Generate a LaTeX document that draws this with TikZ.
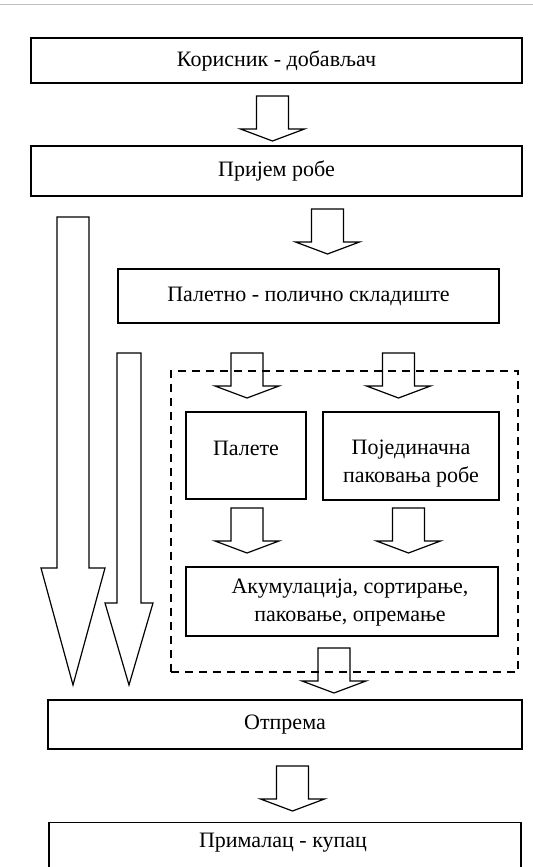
\documentclass[tikz,border=0pt]{standalone}
\usepackage{fontspec}
\setmainfont{Liberation Serif}
\tikzset{
  box/.style={draw, line width=0.6pt, inner sep=0pt, align=center},
  txt/.style={align=center, inner sep=0pt},
  frame/.style={draw, line width=0.6pt, dash pattern=on 4pt off 3pt},
  fatarrow/.style={draw, line width=0.6pt, line join=miter}
}
\begin{document}
\begin{tikzpicture}[x=0.5pt,y=-0.5pt,font=\fontsize{11}{14}\selectfont]
        \useasboundingbox (0,0) rectangle (533,867);
        \clip (0,0) rectangle (533,867);
        \draw[gray!50,line width=0.4pt] (0,4) -- (533,4);

        \node[box, minimum width=245.5pt, minimum height=22.5pt] (supplier) at (276.5,60.5) {Корисник - добављач};
        \node[box, minimum width=245.5pt, minimum height=25pt] (receipt) at (276.5,171) {Пријем робе};
        \node[box, minimum width=190.5pt, minimum height=27pt] (store) at (308.5,296) {Палетно - полично складиште};

        \node[frame, minimum width=173.5pt, minimum height=150.5pt] (zone) at (344.5,521.5) {};
        \node[box, minimum width=60pt, minimum height=43.5pt] (pallets) at (246,455.5) {};
        \node[txt] (palletstext) at (246,448) {Палете};
        \node[box, minimum width=88pt, minimum height=44pt] (units) at (411,456) {};
        \node[txt] (unitstext) at (411,464) {Појединачна\\паковања робе};
        \node[box, minimum width=156pt, minimum height=34.5pt] (accum) at (342,601.5) {};
        \node[txt] (accumtext) at (350,603) {Акумулација, сортирање,\\паковање, опремање};

        \node[box, minimum width=237pt, minimum height=24.5pt] (dispatch) at (285,724.5) {Отпрема};
        \node[box, minimum width=236pt, minimum height=29pt, anchor=north] (customer) at (285,822) {};
        \node[txt] (customertext) at (283,843) {Прималац - купац};

        % small arrows
        \foreach \cx/\ty in {272.5/96, 327.5/209, 247/353, 398.5/353, 247/508, 408.5/508, 334/648, 292.5/766}
            \draw[fatarrow] (\cx-16,\ty) -- (\cx-16,\ty+33) -- (\cx-32,\ty+33) -- (\cx,\ty+45)
                -- (\cx+32,\ty+33) -- (\cx+16,\ty+33) -- (\cx+16,\ty) -- cycle;

        % long arrows on the left
        \draw[fatarrow] (57,217) -- (57,568) -- (41,568) -- (73,685) -- (105,568) -- (89,568) -- (89,217) -- cycle;
        \draw[fatarrow] (117,353) -- (117,603) -- (105,603) -- (129,685) -- (153,603) -- (141,603) -- (141,353) -- cycle;
    \end{tikzpicture}
\end{document}
